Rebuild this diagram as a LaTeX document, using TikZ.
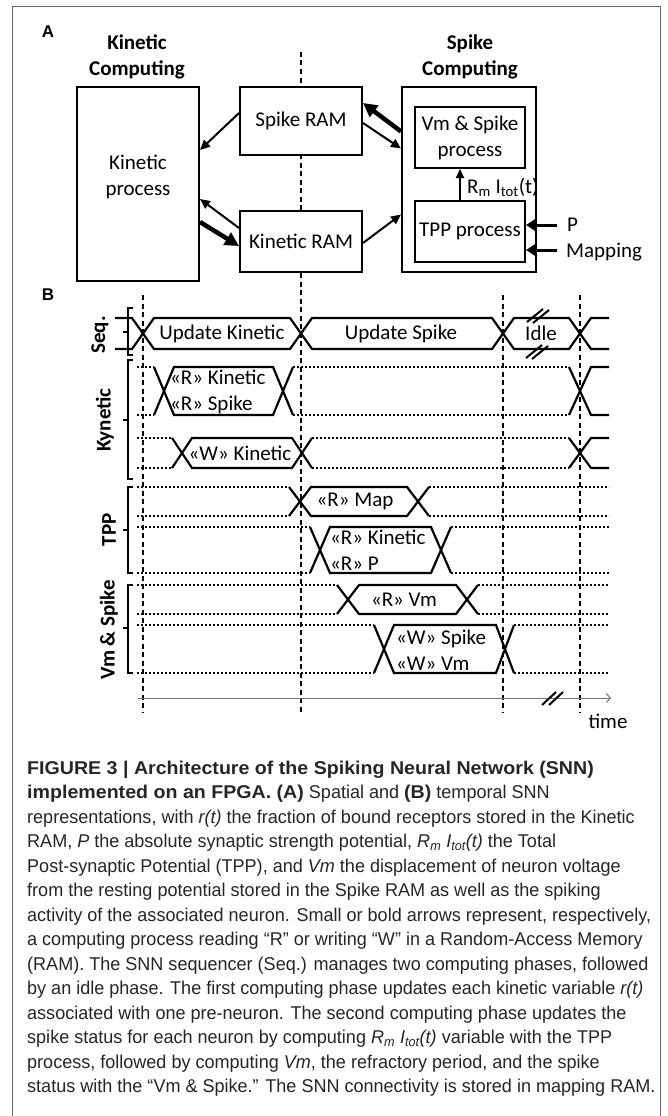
\documentclass[tikz,border=0pt]{standalone}
\usepackage{fontspec}
\setmainfont{Carlito}
\newfontfamily\capfont[FakeStretch=0.975, BoldFeatures={FakeStretch=1.06}]{Liberation Sans}
\newfontfamily\panelfont{Liberation Sans}
\usetikzlibrary{arrows.meta}

\begin{document}
\begin{tikzpicture}[x=1pt, y=-1pt,
    font=\fontsize{21}{26}\selectfont,
    box/.style={draw, line width=2pt, fill=white, minimum width=122pt, align=center, inner sep=0pt},
    sig/.style={line width=2.2pt},
    idle/.style={line width=2pt, dotted},
    tgrid/.style={line width=1.2pt, dash pattern=on 5pt off 3.5pt},
    brk/.style={line width=1.2pt},
    lbl/.style={font=\bfseries\fontsize{21}{26}\selectfont, rotate=90},
    txt/.style={inner sep=0pt, align=left},
    captxt/.style={anchor=base west, inner sep=0pt, text=black!85,
      font=\capfont\fontsize{18.5}{20}\selectfont},
    panel/.style={font=\panelfont\bfseries\fontsize{17}{20}\selectfont}
  ]
  \useasboundingbox (0,0) rectangle (668,1116);
  \fill[white] (0,0) rectangle (668,1116);
  \draw[black!60, line width=1pt] (12,1116) -- (12,7) -- (660,7) -- (660,1116);

  % time grid
  \draw[tgrid] (143,295) -- (143,713);
  \draw[tgrid] (301,52) -- (301,713);
  \draw[tgrid] (503,295) -- (503,713);
  \draw[tgrid] (580,295) -- (580,713);

  % A: spatial view
  \node[panel] (pa) at (48,32) {A};
  \node[font=\bfseries\fontsize{21}{26}\selectfont, align=center] (kc) at (137,57) {Kinetic\\Computing};
  \node[font=\bfseries\fontsize{21}{26}\selectfont, align=center] (scl) at (470,57) {Spike\\Computing};

  \begin{scope}[every node/.style=box]
    \node[minimum height=194pt, text depth=18pt] (kp) at (138,184) {Kinetic\\process};
    \node[minimum height=68pt] (sram) at (301,121) {Spike RAM};
    \node[minimum height=61pt] (kram) at (301,241.5) {Kinetic RAM};
    \node[minimum width=134pt, minimum height=185pt] (sc) at (469,179.5) {};
    \node[minimum width=110pt, minimum height=61pt] (vms) at (470,137.5) {Vm \& Spike\\process};
    \node[minimum width=110pt, minimum height=61pt] (tpp) at (470,231.5) {TPP process};
  \end{scope}

  \node[txt, anchor=west] (rlab) at (467,187) {R\textsubscript{m} I\textsubscript{tot}(t)};
  \node[txt, anchor=west] (plab) at (567,225) {P};
  \node[txt, anchor=west] (mlab) at (566,252) {Mapping};

  \begin{scope}[every edge/.style={draw, line width=2pt}]
    % read
    \path [-{Triangle[length=10pt,width=9pt]}] ([yshift=8pt]sram.west) edge ([yshift=34pt]kp.east);
    \path [-{Triangle[length=10pt,width=9pt]}] ([yshift=13.5pt]kram.west) edge ([yshift=-15pt]kp.east);
    \path [-{Triangle[length=10pt,width=9pt]}] ([yshift=-2pt]sram.east) edge ([yshift=31pt]sc.west);
    \path [-{Triangle[length=10pt,width=9pt]}] ([yshift=-1.5pt]kram.east) edge ([yshift=-35pt]sc.west);
    \path [-{Triangle[length=9pt,width=8pt]}] ([xshift=-10pt]tpp.north) edge ([xshift=-10pt]vms.south);
    % write
    \path [-{Triangle[length=14pt,width=14pt]}] ([yshift=-38pt]kp.east) edge[line width=4.5pt] ([yshift=-4.5pt]kram.west);
    \path [-{Triangle[length=14pt,width=14pt]}] ([yshift=48pt]sc.west) edge[line width=4.5pt] ([yshift=18pt]sram.east);
    % inputs
    \path [-{Triangle[length=9pt,width=11pt]}] ([xshift=-10pt]plab.west) edge[line width=3pt] (plab.west -| tpp.east);
    \path [-{Triangle[length=9pt,width=11pt]}] ([xshift=-9pt,yshift=2pt]mlab.west) edge[line width=3pt] ([yshift=2pt]mlab.west -| tpp.east);
  \end{scope}

  % B: temporal view
  \node[panel] (pb) at (48,295) {B};

  \node[lbl] (lseq) at (100,335) {Seq.};
  \node[lbl] (lkin) at (105,420) {Kynetic};
  \node[lbl] (ltpp) at (109,530) {TPP};
  \node[lbl] (lvm) at (109,630) {Vm \& Spike};

  \draw[brk] (133,308) -- (128,308) -- (128,355) -- (133,355) (128,332) -- (123,332);
  \draw[brk] (133,360) -- (128,360) -- (128,479) -- (133,479) (128,420) -- (123,420);
  \draw[brk] (133,487) -- (128,487) -- (128,573) -- (133,573) (128,530) -- (123,530);
  \draw[brk] (133,585) -- (128,585) -- (128,673) -- (133,673) (128,628) -- (123,628);

  % sequencer
  \draw[sig] (115,318) -- (132,318) -- (154,349) -- (290,349) -- (312,318) -- (492,318) -- (514,349) -- (569,349) -- (591,318) -- (609,318);
  \draw[sig] (115,349) -- (132,349) -- (154,318) -- (290,318) -- (312,349) -- (492,349) -- (514,318) -- (569,318) -- (591,349) -- (609,349);
  \draw[line width=2pt] (527,322) -- (543,309) (533,323) -- (549,310);
  \draw[line width=2pt] (526,358) -- (542,345) (532,359) -- (548,346);
  \node (tuk) at (222,334) {Update Kinetic};
  \node (tus) at (401,334) {Update Spike};
  \node[fill=white, inner sep=1pt] (tid) at (541,333) {Idle};

  % kinetic read
  \draw[idle] (137,367) -- (154,367) (137,415) -- (154,415) (293,367) -- (569,367) (293,415) -- (569,415);
  \draw[sig] (154,367) -- (174,415) -- (273,415) -- (293,367);
  \draw[sig] (154,415) -- (174,367) -- (273,367) -- (293,415);
  \draw[sig] (569,367) -- (591,415) -- (609,415);
  \draw[sig] (569,415) -- (591,367) -- (609,367);
  \node[txt, anchor=west] (tkr) at (170,392) {«R» Kinetic\\«R» Spike};

  % kinetic write
  \draw[idle] (137,438) -- (172,438) (137,468) -- (172,468) (312,438) -- (569,438) (312,468) -- (569,468);
  \draw[sig] (172,438) -- (192,468) -- (292,468) -- (312,438);
  \draw[sig] (172,468) -- (192,438) -- (292,438) -- (312,468);
  \draw[sig] (569,438) -- (591,468) -- (609,468);
  \draw[sig] (569,468) -- (591,438) -- (609,438);
  \node (tkw) at (240,453) {«W» Kinetic};

  % TPP
  \draw[idle] (137,487) -- (289,487) (137,516) -- (289,516) (429,487) -- (609,487) (429,516) -- (609,516);
  \draw[sig] (289,487) -- (311,516) -- (407,516) -- (429,487);
  \draw[sig] (289,516) -- (311,487) -- (407,487) -- (429,516);
  \node (tmap) at (355,501) {«R» Map};

  \draw[idle] (137,527) -- (310,527) (137,573) -- (310,573) (451,527) -- (609,527) (451,573) -- (609,573);
  \draw[sig] (310,527) -- (330,573) -- (431,573) -- (451,527);
  \draw[sig] (310,573) -- (330,527) -- (431,527) -- (451,573);
  \node[txt, anchor=west] (tkp) at (330,550) {«R» Kinetic\\«R» P};

  % Vm & Spike
  \draw[idle] (137,585) -- (337,585) (137,614) -- (337,614) (478,585) -- (609,585) (478,614) -- (609,614);
  \draw[sig] (337,585) -- (359,614) -- (456,614) -- (478,585);
  \draw[sig] (337,614) -- (359,585) -- (456,585) -- (478,614);
  \node (tvr) at (404,600) {«R» Vm};

  \draw[idle] (137,625) -- (374,625) (137,673) -- (374,673) (514,625) -- (609,625) (514,673) -- (609,673);
  \draw[sig] (374,625) -- (394,673) -- (496,673) -- (514,625);
  \draw[sig] (374,673) -- (394,625) -- (496,625) -- (514,673);
  \node[txt, anchor=west] (tvw) at (396,650) {«W» Spike\\«W» Vm};

  % time axis
  \draw[line width=1pt, black!55, -{Straight Barb[length=4pt,width=9pt]}] (138,698) -- (611,698);
  \draw[line width=2pt] (542,705) -- (556,692) (549,705) -- (563,692);
  \node (ttime) at (608,721) {time};

  % caption
  \foreach \ln [count=\i] in {
    {\textbf{FIGURE 3 | Architecture of the Spiking Neural Network (SNN)}},
    {\textbf{implemented on an FPGA. (A)} Spatial and \textbf{(B)} temporal SNN},
    {representations, with \textit{r(t)} the fraction of bound receptors stored in the Kinetic},
    {RAM, \textit{P} the absolute synaptic strength potential, \textit{R\textsubscript{m} I\textsubscript{tot}(t)} the Total},
    {Post-synaptic Potential (TPP), and \textit{Vm} the displacement of neuron voltage},
    {from the resting potential stored in the Spike RAM as well as the spiking},
    {activity of the associated neuron. Small or bold arrows represent, respectively,},
    {a computing process reading “R” or writing “W” in a Random-Access Memory},
    {(RAM). The SNN sequencer (Seq.) manages two computing phases, followed},
    {by an idle phase. The first computing phase updates each kinetic variable \textit{r(t)}},
    {associated with one pre-neuron. The second computing phase updates the},
    {spike status for each neuron by computing \textit{R\textsubscript{m} I\textsubscript{tot}(t)} variable with the TPP},
    {process, followed by computing \textit{Vm}, the refractory period, and the spike},
    {status with the “Vm \& Spike.” The SNN connectivity is stored in mapping RAM.}}
    \node[captxt, name=cap\i] at (27,{749.5+24.5*\i}) {\ln};
\end{tikzpicture}
\end{document}
